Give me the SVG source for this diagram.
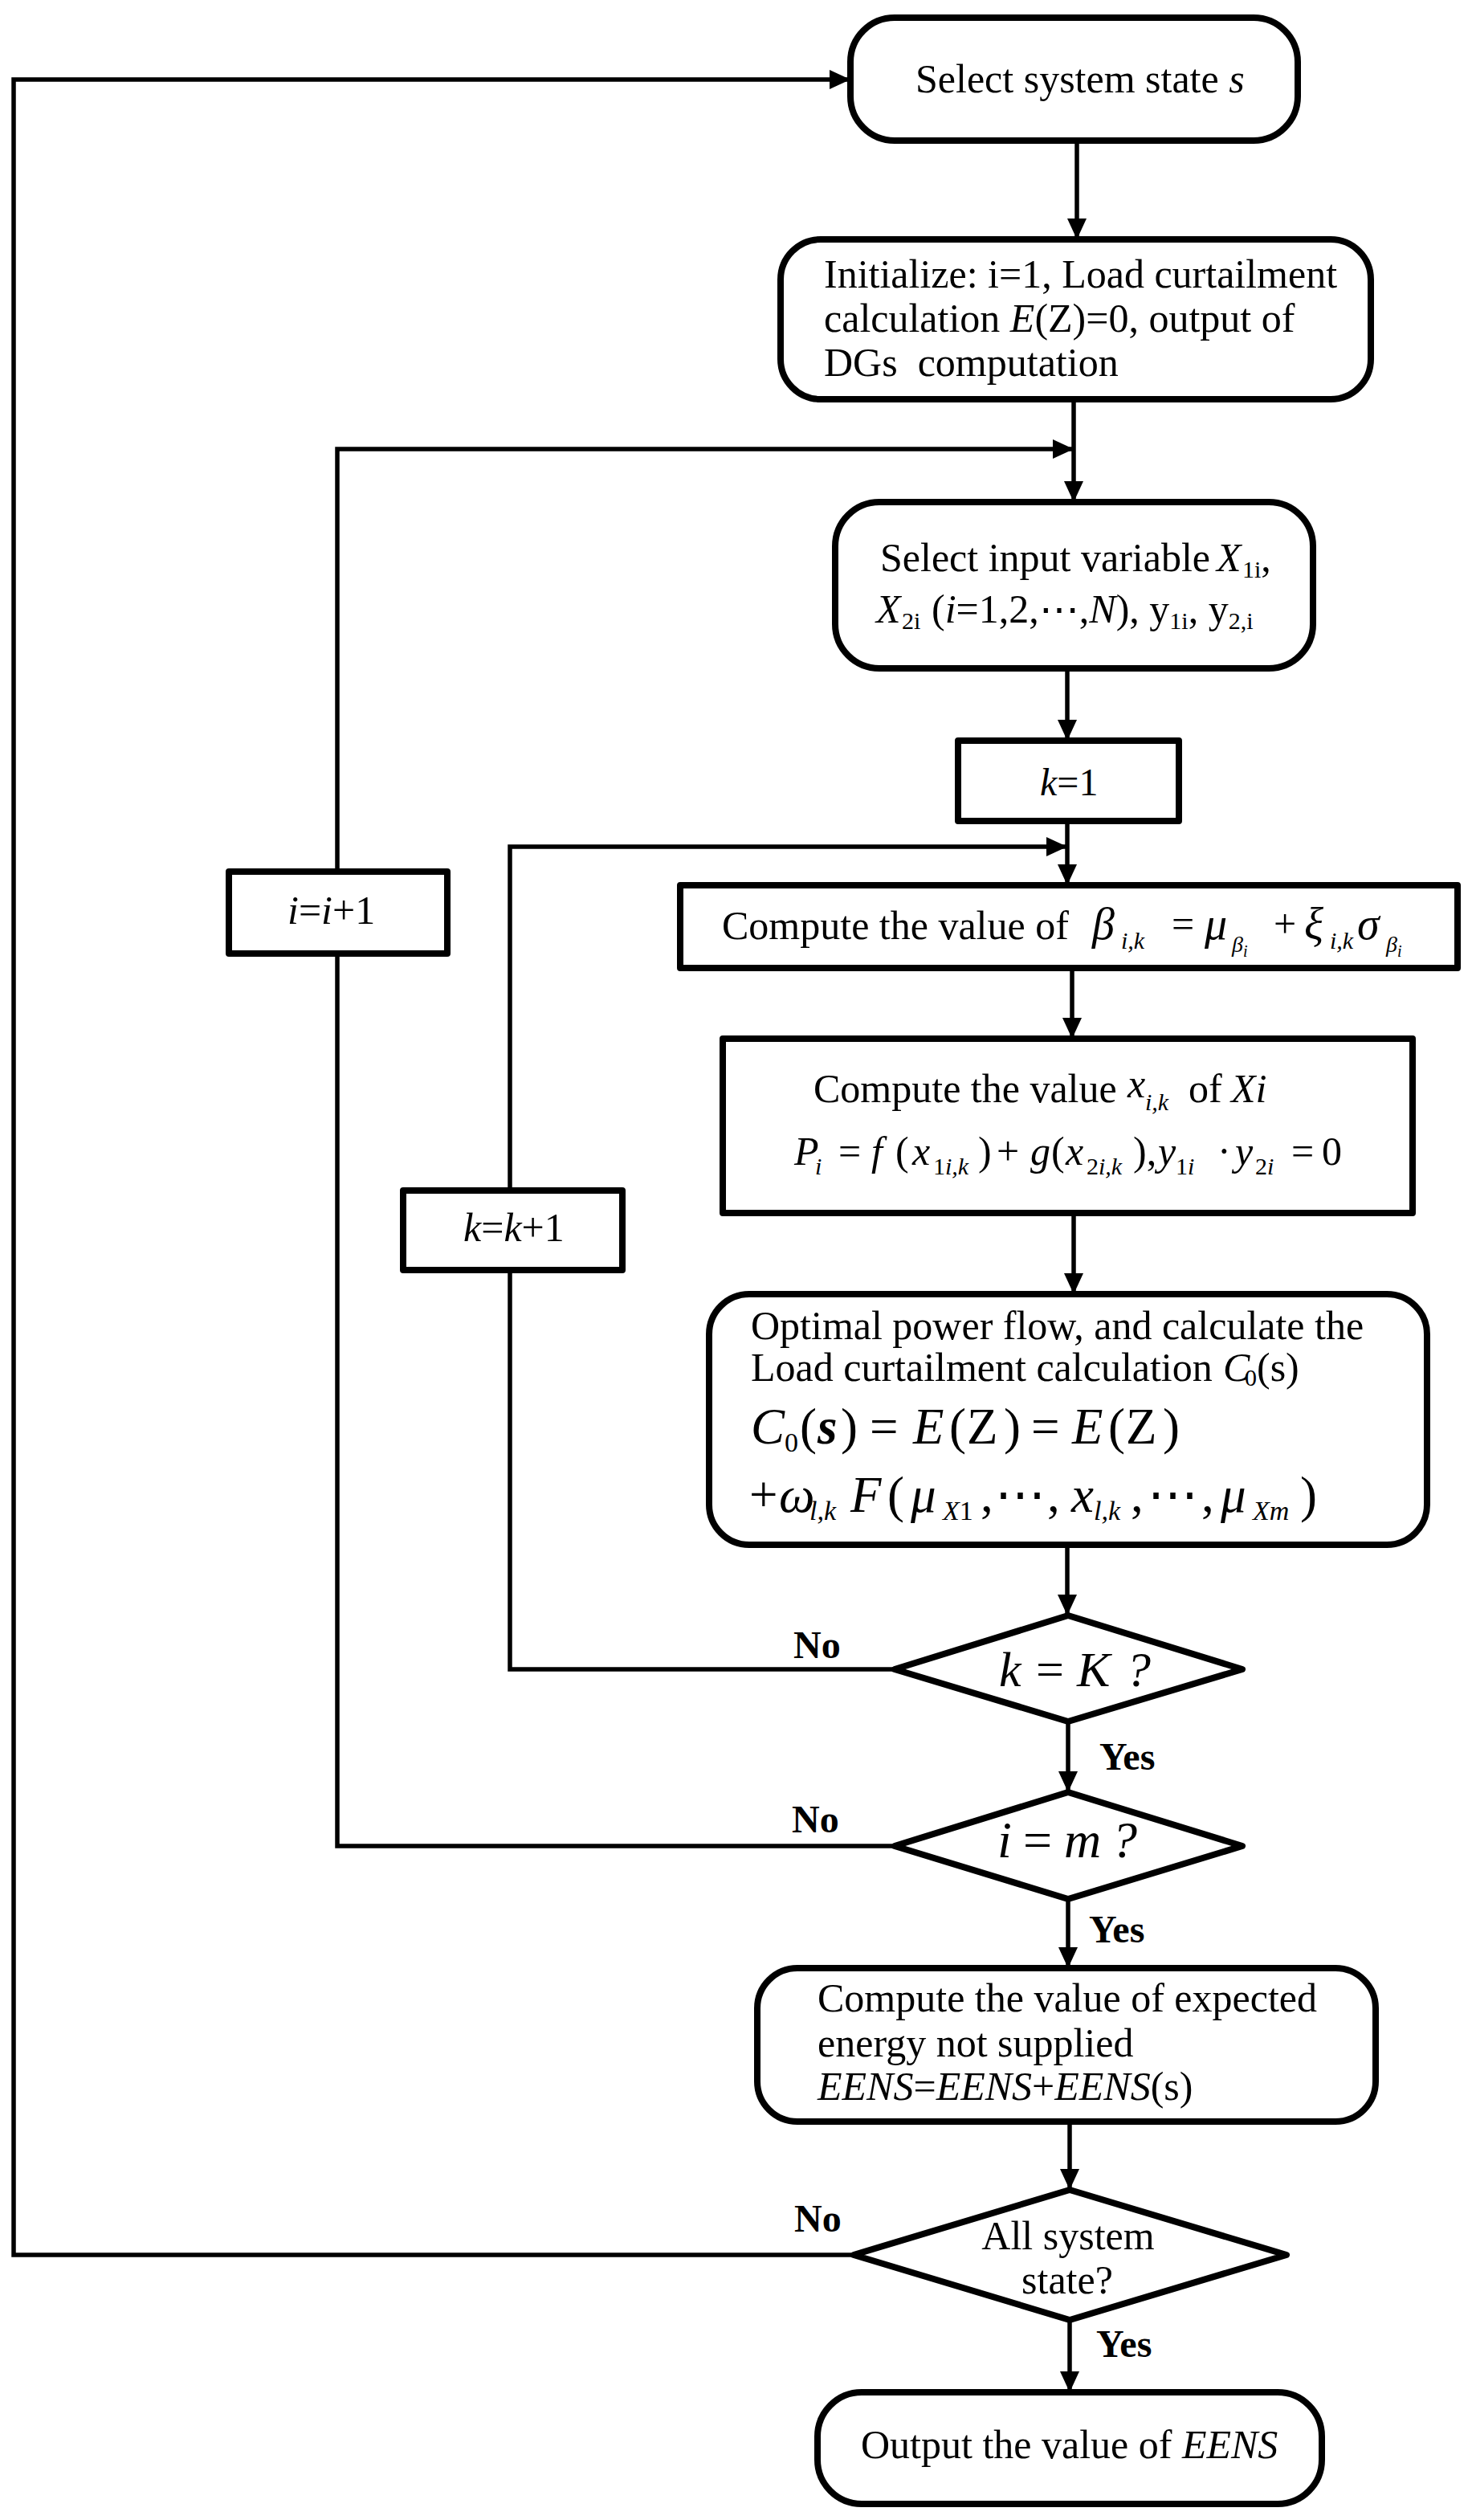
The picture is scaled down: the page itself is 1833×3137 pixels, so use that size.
<svg xmlns="http://www.w3.org/2000/svg" width="1833" height="3137" viewBox="0 0 1833 3137">
<style>
.box{fill:#fff;stroke:#000;stroke-width:8;stroke-linejoin:round}
.dia{fill:#fff;stroke:#000;stroke-width:8;stroke-linejoin:round}
.conn{fill:none;stroke:#000;stroke-width:5.5}
text{font-family:"Liberation Serif","Times New Roman","DejaVu Serif",serif;font-size:50px;fill:#000}
.it{font-style:italic}
.lbl{font-weight:bold;font-size:48px}
.m{font-size:63px}
.sub{font-size:30px}
.msub{font-size:34px}
</style>
<defs>
<marker id="arr" markerUnits="userSpaceOnUse" markerWidth="26" markerHeight="24" refX="26" refY="12" orient="auto">
<path d="M0,0 L26,12 L0,24 z" fill="#000"/>
</marker>
</defs>
<g id="connectors">
<path class="conn" d="M1063,2807 H17 V99 H1059" marker-end="url(#arr)"/>
<path class="conn" d="M1341,175 V298" marker-end="url(#arr)"/>
<path class="conn" d="M1337,497 V625" marker-end="url(#arr)"/>
<path class="conn" d="M1114,2298 H420 V1187"/>
<path class="conn" d="M420,1085 V559 H1337" marker-end="url(#arr)"/>
<path class="conn" d="M1329,832 V922" marker-end="url(#arr)"/>
<path class="conn" d="M1329,1022 V1102" marker-end="url(#arr)"/>
<path class="conn" d="M1114,2078 H635 V1581"/>
<path class="conn" d="M635,1482 V1054 H1329" marker-end="url(#arr)"/>
<path class="conn" d="M1335,1205 V1293" marker-end="url(#arr)"/>
<path class="conn" d="M1337,1510 V1611" marker-end="url(#arr)"/>
<path class="conn" d="M1329,1923 V2011" marker-end="url(#arr)"/>
<path class="conn" d="M1330,2143 V2231" marker-end="url(#arr)"/>
<path class="conn" d="M1330,2364 V2450" marker-end="url(#arr)"/>
<path class="conn" d="M1332,2641 V2726" marker-end="url(#arr)"/>
<path class="conn" d="M1332,2888 V2978" marker-end="url(#arr)"/>
<text class="lbl" x="988" y="2064">No</text>
<text class="lbl" x="1369" y="2203">Yes</text>
<text class="lbl" x="986" y="2281">No</text>
<text class="lbl" x="1356" y="2418">Yes</text>
<text class="lbl" x="989" y="2778">No</text>
<text class="lbl" x="1365" y="2934">Yes</text>
</g>
<g id="select-state">
<rect class="box" x="1059" y="22" width="557" height="153" rx="55"/>
<text x="1140" y="115">Select system state <tspan class="it">s</tspan></text>
</g>
<g id="initialize">
<rect class="box" x="972" y="298" width="735" height="199" rx="50"/>
<text x="1026" y="358">Initialize: i=1, Load curtailment</text>
<text x="1026" y="413">calculation <tspan class="it">E</tspan>(Z)=0, output of</text>
<text x="1026" y="468" xml:space="preserve">DGs  computation</text>
</g>
<g id="select-input">
<rect class="box" x="1040" y="625" width="595" height="207" rx="55"/>
<text x="1096" y="711">Select input variable <tspan class="it" x="1515">X</tspan><tspan class="sub" x="1547" dy="8">1i</tspan><tspan dy="-8">,</tspan></text>
<text x="1091" y="775"><tspan class="it">X</tspan><tspan class="sub" x="1123" dy="8">2i</tspan><tspan x="1160" dy="-8">(</tspan><tspan class="it">i</tspan>=1,2,⋯,<tspan class="it">N</tspan>), y<tspan class="sub" dy="8">1i</tspan><tspan dy="-8">, y</tspan><tspan class="sub" dy="8">2,i</tspan></text>
</g>
<g id="k-init">
<rect class="box" x="1193" y="922" width="275" height="100"/>
<text x="1295" y="990" style="font-size:48px"><tspan class="it">k</tspan>=1</text>
</g>
<g id="compute-beta">
<rect class="box" x="847" y="1102" width="968" height="103"/>
<text x="899" y="1169">Compute the value of</text>
<text y="1169" class="it" style="font-size:56px"><tspan x="1360">β</tspan><tspan class="sub" x="1396" dy="12">i</tspan><tspan class="sub">,</tspan><tspan class="sub">k</tspan></text>
<text x="1459" y="1167">=</text>
<text y="1169" class="it" style="font-size:56px"><tspan x="1500">μ</tspan><tspan x="1534" dy="16" style="font-size:28px">β</tspan><tspan dy="6" style="font-size:20px">i</tspan></text>
<text x="1586" y="1167">+</text>
<text y="1169" class="it" style="font-size:56px"><tspan x="1624">ξ</tspan><tspan class="sub" x="1656" dy="12">i</tspan><tspan class="sub">,</tspan><tspan class="sub">k</tspan><tspan x="1690" dy="-12">σ</tspan><tspan x="1726" dy="16" style="font-size:28px">β</tspan><tspan dy="6" style="font-size:20px">i</tspan></text>
</g>
<g id="compute-x">
<rect class="box" x="900" y="1293" width="859" height="217"/>
<text x="1013" y="1372">Compute the value <tspan class="it" x="1404" dy="-6">x</tspan><tspan class="it sub" x="1426" dy="16">i,k</tspan><tspan x="1480" dy="-10">of </tspan><tspan class="it" x="1533">Xi</tspan></text>
<text y="1450"><tspan class="it" x="989">P</tspan><tspan class="it sub" x="1015" dy="12">i</tspan><tspan x="1044" dy="-12">=</tspan><tspan class="it" x="1085">f</tspan><tspan x="1115">(</tspan><tspan class="it" x="1136">x</tspan><tspan class="sub" x="1162" dy="12">1</tspan><tspan class="it sub">i,k</tspan><tspan x="1218" dy="-12">)</tspan><tspan x="1241">+</tspan><tspan class="it" x="1283">g</tspan><tspan x="1309">(</tspan><tspan class="it" x="1327">x</tspan><tspan class="sub" x="1353" dy="12">2</tspan><tspan class="it sub">i,k</tspan><tspan x="1411" dy="-12">),</tspan><tspan class="it" x="1442">y</tspan><tspan class="sub" x="1464" dy="12">1</tspan><tspan class="it sub">i</tspan><tspan x="1516" dy="-12">·</tspan><tspan class="it" x="1538">y</tspan><tspan class="sub" x="1563" dy="12">2</tspan><tspan class="it sub">i</tspan><tspan x="1608" dy="-12">=</tspan><tspan x="1646">0</tspan></text>
</g>
<g id="opf">
<rect class="box" x="883" y="1611" width="894" height="312" rx="50"/>
<text x="935" y="1667">Optimal power flow, and calculate the</text>
<text x="935" y="1719">Load curtailment calculation <tspan class="it" x="1523">C</tspan><tspan class="sub" x="1550" dy="6">0</tspan><tspan x="1565" dy="-6">(s)</tspan></text>
<text y="1797" class="m"><tspan class="it" x="935">C</tspan><tspan class="msub" x="977" dy="10">0</tspan><tspan x="996" dy="-10">(</tspan><tspan class="it" x="1018" style="font-weight:bold">s</tspan><tspan x="1047">)</tspan><tspan x="1083">=</tspan><tspan class="it" x="1137">E</tspan><tspan x="1182">(</tspan><tspan x="1204">Z</tspan><tspan x="1250">)</tspan><tspan x="1284">=</tspan><tspan class="it" x="1335">E</tspan><tspan x="1380">(</tspan><tspan x="1402">Z</tspan><tspan x="1448">)</tspan></text>
<text y="1882" class="m"><tspan x="933">+</tspan><tspan class="it" x="970">ω</tspan><tspan class="it msub" x="1008" dy="10">l,k</tspan><tspan class="it" x="1059" dy="-10">F</tspan><tspan x="1105">(</tspan><tspan class="it" x="1134">μ</tspan><tspan class="it msub" x="1174" dy="10">X</tspan><tspan class="msub">1</tspan><tspan x="1221" dy="-10">,</tspan><tspan x="1239">⋯</tspan><tspan x="1304">,</tspan><tspan class="it" x="1334">x</tspan><tspan class="it msub" x="1362" dy="10">l,k</tspan><tspan x="1408" dy="-10">,</tspan><tspan x="1429">⋯</tspan><tspan x="1496">,</tspan><tspan class="it" x="1520">μ</tspan><tspan class="it msub" x="1560" dy="10">Xm</tspan><tspan x="1619" dy="-10">)</tspan></text>
</g>
<g id="i-incr">
<rect class="box" x="285" y="1085" width="272" height="102"/>
<text x="358" y="1150"><tspan class="it">i</tspan>=<tspan class="it">i</tspan>+1</text>
</g>
<g id="k-incr">
<rect class="box" x="502" y="1482" width="273" height="99"/>
<text x="577" y="1545"><tspan class="it">k</tspan>=<tspan class="it">k</tspan>+1</text>
</g>
<g id="dec-k">
<polygon class="dia" points="1330,2011 1547,2078 1330,2143 1114,2078"/>
<text y="2099" style="font-size:62px"><tspan class="it" x="1244">k</tspan><tspan x="1290">=</tspan><tspan class="it" x="1341">K</tspan><tspan class="it" x="1402">?</tspan></text>
</g>
<g id="dec-i">
<polygon class="dia" points="1330,2231 1547,2298 1330,2364 1114,2298"/>
<text y="2312" style="font-size:64px"><tspan class="it" x="1242">i</tspan><tspan x="1274">=</tspan><tspan class="it" x="1325">m</tspan><tspan class="it" x="1384">?</tspan></text>
</g>
<g id="eens">
<rect class="box" x="943" y="2450" width="770" height="191" rx="50"/>
<text x="1018" y="2504">Compute the value of expected</text>
<text x="1018" y="2560">energy not supplied</text>
<text x="1018" y="2614"><tspan class="it">EENS</tspan>=<tspan class="it">EENS</tspan>+<tspan class="it">EENS</tspan>(s)</text>
</g>
<g id="dec-all">
<polygon class="dia" points="1332,2726 1602,2807 1332,2888 1063,2807"/>
<text x="1330" y="2800" text-anchor="middle">All system</text>
<text x="1329" y="2855" text-anchor="middle">state?</text>
</g>
<g id="output">
<rect class="box" x="1018" y="2978" width="628" height="139" rx="55"/>
<text x="1072" y="3060">Output the value of <tspan class="it">EENS</tspan></text>
</g>
</svg>
